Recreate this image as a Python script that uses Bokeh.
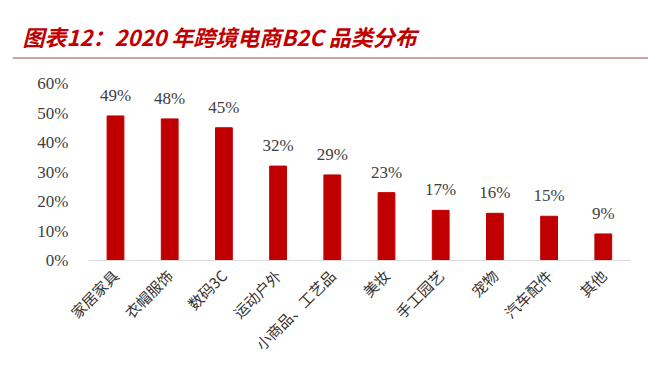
from bokeh.plotting import figure
from bokeh.models import (ColumnDataSource, NumeralTickFormatter, FixedTicker, Range1d,
                          Span)
from bokeh.core.properties import value
from bokeh.embed import file_html
from bokeh.resources import INLINE
import math

title_text = "图表12：2020 年跨境电商B2C 品类分布"
categories = ["家居家具", "衣帽服饰", "数码3C", "运动户外", "小商品、工艺品",
              "美妆", "手工园艺", "宠物", "汽车配件", "其他"]
shares = [0.49, 0.48, 0.45, 0.32, 0.29, 0.23, 0.17, 0.16, 0.15, 0.09]
share_labels = ["49%", "48%", "45%", "32%", "29%", "23%", "17%", "16%", "15%", "9%"]
y_ticks = [0, 0.1, 0.2, 0.3, 0.4, 0.5, 0.6]

W, H = 648, 369
L, R, T, B = 12, 0, 55, 109
PX_PER_UNIT = 295.0            # vertical pixels per 100 %
PX_PER_CAT = 54.2              # horizontal pixels per category
FIRST_CENTER = 115 - L         # first category centre, from frame left

idx = list(range(len(categories)))
src = ColumnDataSource(dict(x=idx, val=shares, lab=share_labels))

x_start = -FIRST_CENTER / PX_PER_CAT
x_end = x_start + (W - L - R) / PX_PER_CAT
y_end = (H - B - T) / PX_PER_UNIT

p = figure(width=W, height=H, x_range=Range1d(x_start, x_end), y_range=Range1d(0, y_end),
           output_backend="svg", toolbar_location=None,
           min_border_left=L, min_border_right=R,
           min_border_top=T, min_border_bottom=B)
p.vbar(x="x", top="val", width=0.31, source=src, color="#C00000")
p.text(x="x", y="val", text="lab", source=src, y_offset=-11,
       text_font=value("Liberation Serif"), text_font_size="17px",
       text_color="#404040", text_align="center", text_baseline="bottom")

# title
p.title.text = title_text
p.title.text_font = "Noto Sans CJK SC"
p.title.text_font_size = "22px"
p.title.text_font_style = "bold italic"
p.title.text_color = "#C00000"
p.title.align = "left"
p.title.offset = 22 - L
p.title.standoff = 8

# rule under the title (2.5 px below the top of the frame)
p.add_layout(Span(location=y_end - 2.5 / PX_PER_UNIT, dimension="width",
                  line_color="#BC8484", line_width=1.5))

p.outline_line_color = None
p.xgrid.visible = False
p.ygrid.visible = False

p.yaxis.ticker = FixedTicker(ticks=y_ticks)
p.yaxis.formatter = NumeralTickFormatter(format="0%")
p.yaxis.axis_line_color = None
p.yaxis.major_tick_line_color = None
p.yaxis.minor_tick_line_color = None
p.yaxis.major_tick_out = 0
p.yaxis.major_tick_in = 0
p.yaxis.major_label_standoff = -(68 - L)
p.yaxis.major_label_text_font = "Liberation Serif"
p.yaxis.major_label_text_font_size = "17px"
p.yaxis.major_label_text_color = "#404040"

p.xaxis.ticker = FixedTicker(ticks=idx)
p.xaxis.major_label_overrides = {i: c for i, c in zip(idx, categories)}
p.xaxis.bounds = (-0.5, len(categories) - 0.5)
p.xaxis.axis_line_color = "#D9D9D9"
p.xaxis.axis_line_width = 1
p.xaxis.major_tick_line_color = None
p.xaxis.minor_tick_line_color = None
p.xaxis.major_tick_out = 0
p.xaxis.major_tick_in = 0
p.xaxis.major_label_orientation = math.pi / 4
p.xaxis.major_label_standoff = 12
p.xaxis.major_label_text_font = "Noto Sans CJK SC"
p.xaxis.major_label_text_font_size = "15px"
p.xaxis.major_label_text_color = "#333333"

open("out.html", "w").write(file_html(p, INLINE))
